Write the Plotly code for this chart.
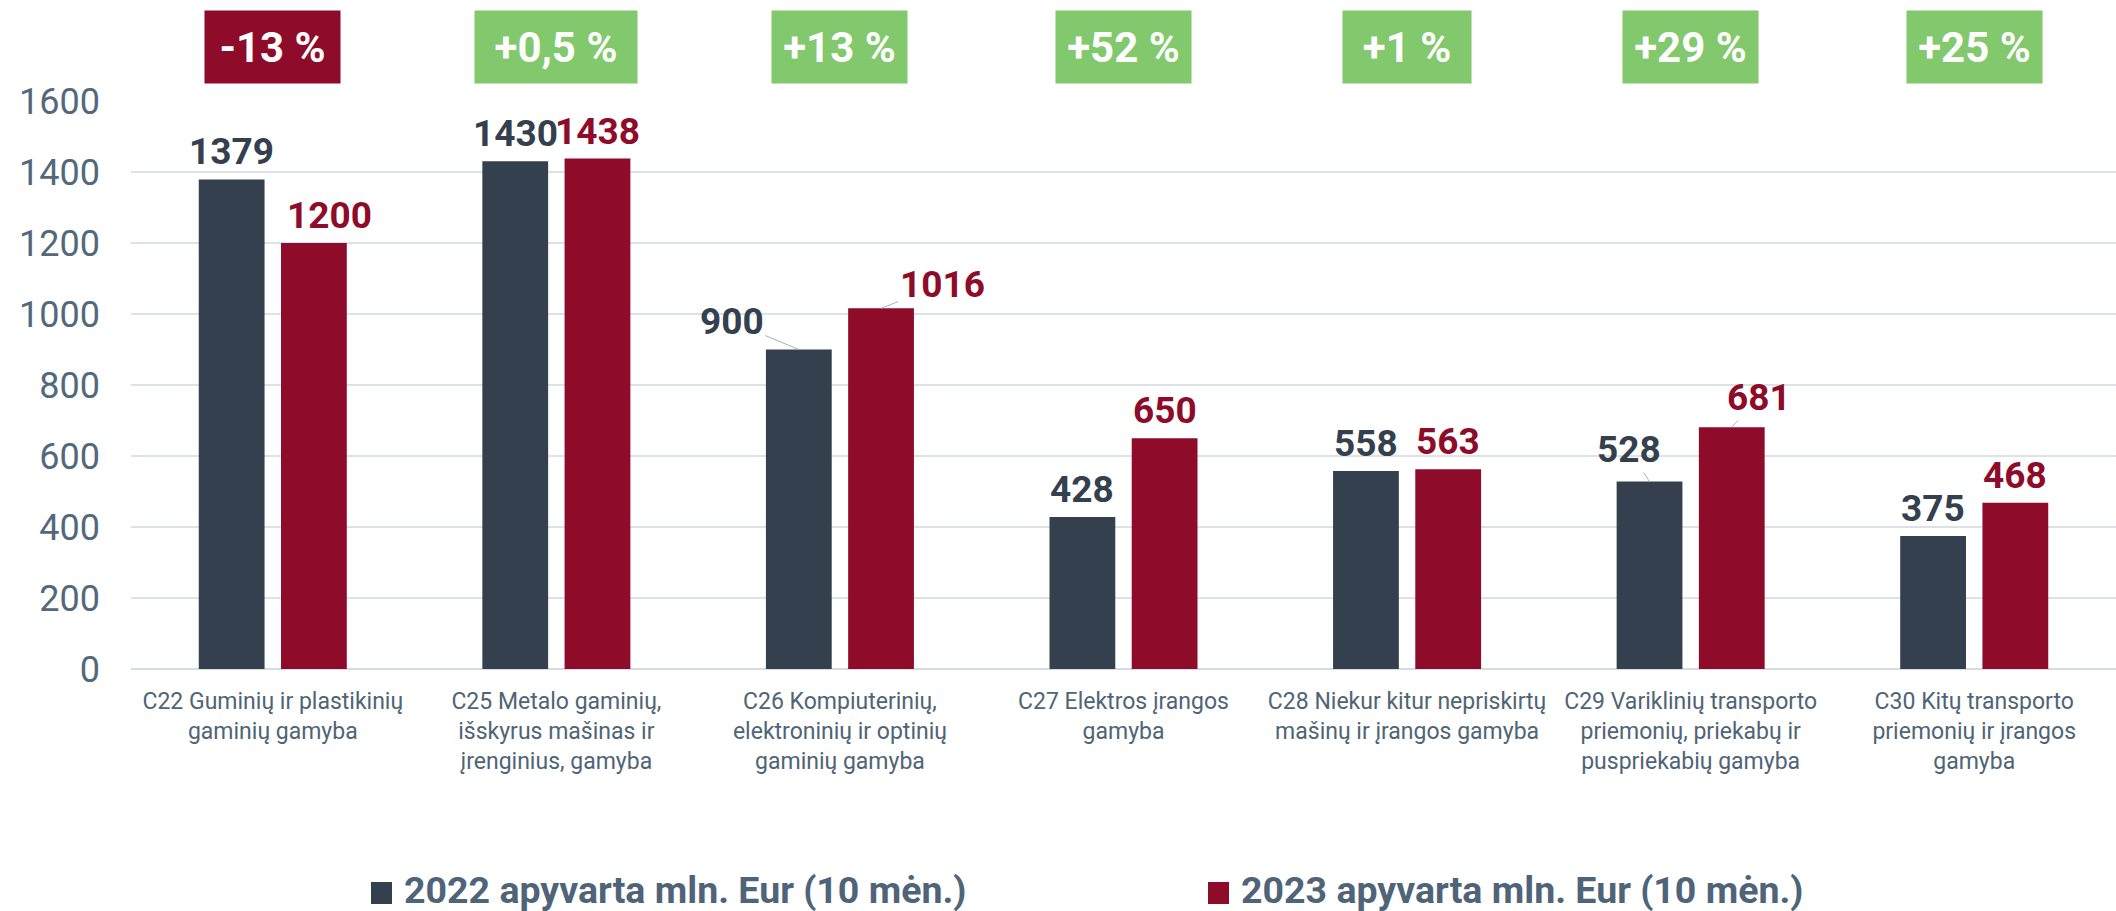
import plotly.graph_objects as go

# data
categories = [
    "C22 Guminių ir plastikinių<br>gaminių gamyba",
    "C25 Metalo gaminių,<br>išskyrus mašinas ir<br>įrenginius, gamyba",
    "C26 Kompiuterinių,<br>elektroninių ir optinių<br>gaminių gamyba",
    "C27 Elektros įrangos<br>gamyba",
    "C28 Niekur kitur nepriskirtų<br>mašinų ir įrangos gamyba",
    "C29 Variklinių transporto<br>priemonių, priekabų ir<br>puspriekabių gamyba",
    "C30 Kitų transporto<br>priemonių ir įrangos<br>gamyba",
]
turnover_2022 = [1379, 1430, 900, 428, 558, 528, 375]
turnover_2023 = [1200, 1438, 1016, 650, 563, 681, 468]
change_labels = ["-13 %", "+0,5 %", "+13 %", "+52 %", "+1 %", "+29 %", "+25 %"]
series_names = ["2022 apyvarta mln. Eur (10 mėn.)", "2023 apyvarta mln. Eur (10 mėn.)"]
y_ticks = [0, 200, 400, 600, 800, 1000, 1200, 1400, 1600]

DARK = "#34404D"
RED = "#8E0B29"
GREEN = "#82C86C"
AXIS_TEXT = "#53687B"
FONT = "Roboto"

W, H = 2116, 911
M_L, M_R, M_T, M_B = 131, 0, 101, 242
BARGAP = 0.42

# labels drawn with a leader line: (series, index) -> (ax, ay)
leaders = {(0, 2): (-67, -28), (1, 2): (61, -24), (0, 5): (-21, -32), (1, 5): (27, -30)}
# small sideways nudges of plain labels
nudges = {(1, 0): 16}


def paper_x(px):
    return (px - M_L) / (W - M_L - M_R)


def paper_y(py):
    return (H - M_B - py) / (H - M_T - M_B)


fig = go.Figure()
series = [(turnover_2022, DARK), (turnover_2023, RED)]
for s, (vals, color) in enumerate(series):
    fig.add_trace(
        go.Bar(
            x=categories,
            y=vals,
            name=series_names[s],
            marker=dict(color=color, line=dict(width=0)),
            showlegend=False,
        )
    )

# value labels
off = (1 - BARGAP) / 4
for s, (vals, color) in enumerate(series):
    for i, v in enumerate(vals):
        label = dict(
            x=i + (-off if s == 0 else off),
            y=v,
            xref="x",
            yref="y",
            text=str(v),
            font=dict(family=FONT, size=37, color=color, weight="bold"),
        )
        if (s, i) in leaders:
            ax, ay = leaders[(s, i)]
            label.update(
                showarrow=True, arrowhead=0, arrowwidth=1, arrowcolor="#A3B3C2",
                standoff=0, ax=ax, ay=ay,
            )
        else:
            label.update(showarrow=False, yanchor="bottom", yshift=4,
                         xshift=nudges.get((s, i), 0))
        fig.add_annotation(**label)

# change badges above each group
for i, lab in enumerate(change_labels):
    fig.add_annotation(
        x=i,
        y=paper_y(47),
        xref="x",
        yref="paper",
        yanchor="middle",
        text=lab,
        showarrow=False,
        bgcolor=RED if lab.startswith("-") else GREEN,
        width=max(128, 27 * len(lab)),
        height=72,
        borderpad=0,
        font=dict(family=FONT, size=42, color="white", weight="bold"),
    )

# legend drawn by hand so the swatches match the original size
legend_pos = [(371, 402), (1208, 1239)]
for (sx, tx), name, color in zip(legend_pos, series_names, [DARK, RED]):
    fig.add_shape(
        type="rect",
        xref="paper",
        yref="paper",
        x0=paper_x(sx),
        x1=paper_x(sx + 21),
        y0=paper_y(904),
        y1=paper_y(882),
        fillcolor=color,
        line=dict(width=0),
    )
    fig.add_annotation(
        x=paper_x(tx),
        y=paper_y(890),
        xref="paper",
        yref="paper",
        xanchor="left",
        yanchor="middle",
        text=name,
        showarrow=False,
        font=dict(family=FONT, size=37.5, color="#4F6478", weight="bold"),
    )

fig.update_layout(
    width=W,
    height=H,
    margin=dict(l=M_L, r=M_R, t=M_T, b=M_B),
    barmode="group",
    bargap=BARGAP,
    bargroupgap=0.2,
    plot_bgcolor="white",
    paper_bgcolor="white",
    font=dict(family=FONT, color=AXIS_TEXT),
)
fig.update_yaxes(
    range=[0, 1600],
    tickvals=y_ticks,
    tickfont=dict(size=36, color=AXIS_TEXT),
    ticklabelstandoff=30,
    gridcolor="#DDE2E8",
    gridwidth=1.5,
    zeroline=True,
    zerolinecolor="#D6DCE4",
    zerolinewidth=2,
    showline=False,
)
fig.update_xaxes(
    tickfont=dict(size=23, color="#4F6475"),
    ticklabelstandoff=16,
    showgrid=False,
    showline=False,
)

fig.write_html(
    "out.html",
    config={"displayModeBar": False},
    post_script="document.body.style.margin = '0';",
)
